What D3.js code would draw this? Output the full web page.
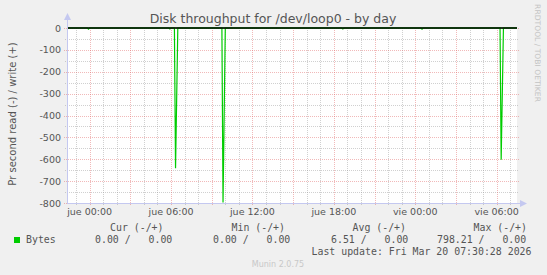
<!DOCTYPE html>
<html>
<head>
<meta charset="utf-8">
<script src="https://cdn.jsdelivr.net/npm/d3@7"></script>
<style>
  html, body { margin: 0; padding: 0; background: #f0f0f0; }
  text { white-space: pre; }
</style>
</head>
<body>
<div id="chart"></div>
<script>
// data (read plotted negative, write positive)
var sampleTimes = [
  "2026-03-18T22:20", "2026-03-18T23:50", "2026-03-18T23:55", "2026-03-19T00:00",
  "2026-03-19T05:50", "2026-03-19T05:55", "2026-03-19T06:00",
  "2026-03-19T06:15", "2026-03-19T06:20", "2026-03-19T06:30",
  "2026-03-19T09:45", "2026-03-19T09:50", "2026-03-19T10:00",
  "2026-03-19T18:35", "2026-03-19T18:40", "2026-03-19T18:45",
  "2026-03-20T00:25", "2026-03-20T00:30", "2026-03-20T00:35",
  "2026-03-20T06:15", "2026-03-20T06:20", "2026-03-20T06:30",
  "2026-03-20T07:30"
];
var readValues = [
  0, 0, 5, 0,
  0, 4, 0,
  0, 641, 0,
  0, 798.21, 0,
  0, 4, 0,
  0, 5, 0,
  0, 602, 0,
  0
];
var writeValues = [
  0, 0, 0, 0,
  0, 0, 0,
  0, 0, 0,
  0, 0, 0,
  0, 0, 0,
  0, 0, 0,
  0, 0, 0,
  0
];
var timeRange = ["2026-03-18T22:20", "2026-03-20T07:30"];
var yTicks = [0, -100, -200, -300, -400, -500, -600, -700, -800];
var yMinorTicks = [-50, -150, -250, -350, -450, -550, -650, -750];
var legendHeaders = ["Cur (-/+)", "Min (-/+)", "Avg (-/+)", "Max (-/+)"];
var legendValues = ["0.00 /   0.00", "0.00 /   0.00", "6.51 /   0.00", "798.21 /   0.00"];
var seriesName = "Bytes";
var title = "Disk throughput for /dev/loop0 - by day";
var yTitle = "Pr second read (-) / write (+)";
var lastUpdate = "Last update: Fri Mar 20 07:30:28 2026";

(function(){

    var width = 547;
    var height = 275;
    var plot = {left: 67, right: 517, top: 28, bottom: 203};

    var svg = d3.select("#chart").append("svg")
        .attr("width", width)
        .attr("height", height)
        .style("display", "block");

    svg.append("rect")
        .attr("width", width)
        .attr("height", height)
        .attr("fill", "#f0f0f0");

    var parse = d3.timeParse("%Y-%m-%dT%H:%M");
    var es = d3.timeFormatLocale({
        dateTime: "%x, %X", date: "%d/%m/%Y", time: "%H:%M:%S", periods: ["AM", "PM"],
        days: ["domingo", "lunes", "martes", "miércoles", "jueves", "viernes", "sábado"],
        shortDays: ["dom", "lun", "mar", "mié", "jue", "vie", "sáb"],
        months: ["enero", "febrero", "marzo", "abril", "mayo", "junio", "julio", "agosto", "septiembre", "octubre", "noviembre", "diciembre"],
        shortMonths: ["ene", "feb", "mar", "abr", "may", "jun", "jul", "ago", "sep", "oct", "nov", "dic"]
    });
    var fmt = es.format("%a %H:%M");

    var x = d3.scaleTime()
        .domain(timeRange.map(parse))
        .range([plot.left, plot.right]);
    var y = d3.scaleLinear()
        .domain([-800, 0])
        .range([plot.bottom, plot.top]);

    //plot background
    svg.append("rect")
        .attr("x", plot.left)
        .attr("y", plot.top)
        .attr("width", plot.right - plot.left)
        .attr("height", plot.bottom - plot.top)
        .attr("fill", "#ffffff");

    var minorColor = "rgba(150,150,150,0.45)";
    var majorColor = "rgba(225,100,100,0.45)";

    //grid
    var grid = svg.append("g");
    var hourTicks = x.ticks(d3.timeHour.every(1));
    var majorTicks = x.ticks(d3.timeHour.every(3));
    var majorKeys = majorTicks.map(function(d){ return +d; });

    grid.selectAll(".vminor")
        .data(hourTicks.filter(function(d){ return majorKeys.indexOf(+d) < 0; }))
        .enter().append("line")
        .attr("x1", function(d){ return Math.round(x(d)) + 0.5; })
        .attr("x2", function(d){ return Math.round(x(d)) + 0.5; })
        .attr("y1", plot.top)
        .attr("y2", plot.bottom + 2)
        .attr("stroke", minorColor)
        .attr("stroke-dasharray", "1,1");

    grid.selectAll(".hminor")
        .data(yMinorTicks)
        .enter().append("line")
        .attr("x1", plot.left - 2)
        .attr("x2", plot.right + 2)
        .attr("y1", function(d){ return Math.round(y(d)) + 0.5; })
        .attr("y2", function(d){ return Math.round(y(d)) + 0.5; })
        .attr("stroke", minorColor)
        .attr("stroke-dasharray", "1,1");

    grid.selectAll(".vmajor")
        .data(majorTicks)
        .enter().append("line")
        .attr("x1", function(d){ return Math.round(x(d)) + 0.5; })
        .attr("x2", function(d){ return Math.round(x(d)) + 0.5; })
        .attr("y1", plot.top)
        .attr("y2", plot.bottom + 3)
        .attr("stroke", majorColor)
        .attr("stroke-dasharray", "1,1");

    grid.selectAll(".hmajor")
        .data(yTicks)
        .enter().append("line")
        .attr("x1", plot.left - 3)
        .attr("x2", plot.right + 3)
        .attr("y1", function(d){ return Math.round(y(d)) + 0.5; })
        .attr("y2", function(d){ return Math.round(y(d)) + 0.5; })
        .attr("stroke", majorColor)
        .attr("stroke-dasharray", "1,1");

    //series
    svg.append("clipPath").attr("id", "clip")
        .append("rect")
        .attr("x", plot.left)
        .attr("y", plot.top - 1)
        .attr("width", plot.right - plot.left)
        .attr("height", plot.bottom - plot.top + 1);

    var samples = sampleTimes.map(function(t, i){
        return {t: parse(t), read: readValues[i], write: writeValues[i]};
    });

    var readLine = d3.line()
        .x(function(d){ return x(d.t); })
        .y(function(d){ return y(-d.read); });
    var writeLine = d3.line()
        .x(function(d){ return x(d.t); })
        .y(function(d){ return y(d.write); });

    var series = svg.append("g").attr("clip-path", "url(#clip)");
    series.append("path")
        .datum(samples)
        .attr("d", readLine)
        .attr("fill", "none")
        .attr("stroke", "#00cc00")
        .attr("stroke-width", 1.2);
    series.append("path")
        .datum(samples)
        .attr("d", writeLine)
        .attr("fill", "none")
        .attr("stroke", "#00cc00")
        .attr("stroke-width", 1);

    //zero line
    svg.append("line")
        .attr("x1", plot.left)
        .attr("x2", plot.right)
        .attr("y1", y(0))
        .attr("y2", y(0))
        .attr("stroke", "#000")
        .attr("stroke-width", 1.3);

    //axes
    var axisColor = "#c4c8f0";
    svg.append("line")
        .attr("x1", plot.left + 0.5).attr("x2", plot.left + 0.5)
        .attr("y1", plot.bottom).attr("y2", plot.top - 9)
        .attr("stroke", axisColor);
    svg.append("line")
        .attr("x1", plot.left).attr("x2", plot.right + 4)
        .attr("y1", plot.bottom + 0.5).attr("y2", plot.bottom + 0.5)
        .attr("stroke", axisColor);
    svg.append("path")
        .attr("d", "M" + (plot.left - 3) + "," + (plot.top - 8) + "L" + (plot.left + 0.5) + "," + (plot.top - 15) + "L" + (plot.left + 4) + "," + (plot.top - 8) + "Z")
        .attr("fill", axisColor);
    svg.append("path")
        .attr("d", "M" + (plot.right + 3) + "," + (plot.bottom - 3) + "L" + (plot.right + 10) + "," + (plot.bottom + 0.5) + "L" + (plot.right + 3) + "," + (plot.bottom + 4) + "Z")
        .attr("fill", axisColor);

    //tick labels
    svg.append("g").selectAll("text")
        .data(yTicks)
        .enter().append("text")
        .attr("x", plot.left - 6)
        .attr("y", function(d){ return y(d) + 3.5; })
        .attr("text-anchor", "end")
        .attr("font-family", "DejaVu Sans, sans-serif")
        .attr("font-size", "9.5px")
        .attr("fill", "#555")
        .text(function(d){ return d; });

    svg.append("g").selectAll("text")
        .data(x.ticks(d3.timeHour.every(6)))
        .enter().append("text")
        .attr("x", function(d){ return x(d); })
        .attr("y", 215)
        .attr("text-anchor", "middle")
        .attr("font-family", "DejaVu Sans, sans-serif")
        .attr("font-size", "9.5px")
        .attr("fill", "#555")
        .text(function(d){ return fmt(d); });

    //titles
    svg.append("text")
        .attr("x", 273)
        .attr("y", 23)
        .attr("text-anchor", "middle")
        .attr("font-family", "DejaVu Sans, sans-serif")
        .attr("font-size", "12.5px")
        .attr("fill", "#555")
        .text(title);

    svg.append("text")
        .attr("transform", "translate(16,114) rotate(-90)")
        .attr("text-anchor", "middle")
        .attr("font-family", "DejaVu Sans, sans-serif")
        .attr("font-size", "10px")
        .attr("fill", "#555")
        .text(yTitle);

    svg.append("text")
        .attr("transform", "translate(535,53) rotate(90)")
        .attr("text-anchor", "middle")
        .attr("font-family", "DejaVu Sans, sans-serif")
        .attr("font-size", "7.6px")
        .attr("fill", "#c4c4c4")
        .text("RRDTOOL / TOBI OETIKER");

    //legend
    var mono = "DejaVu Sans Mono, monospace";
    var headerX = [110, 231.5, 352.5, 473.5];
    var valueX = [95, 213, 331, 437];

    svg.append("g").selectAll("text")
        .data(legendHeaders)
        .enter().append("text")
        .attr("x", function(d, i){ return headerX[i]; })
        .attr("y", 231)
        .attr("font-family", mono)
        .attr("font-size", "9.9px")
        .attr("fill", "#555")
        .text(function(d){ return d; });

    svg.append("rect")
        .attr("x", 14)
        .attr("y", 237)
        .attr("width", 6)
        .attr("height", 6)
        .attr("fill", "#00cc00");

    svg.append("text")
        .attr("x", 26)
        .attr("y", 243)
        .attr("font-family", mono)
        .attr("font-size", "9.9px")
        .attr("fill", "#555")
        .text(seriesName);

    svg.append("g").selectAll("text")
        .data(legendValues)
        .enter().append("text")
        .attr("x", function(d, i){ return valueX[i]; })
        .attr("y", 243)
        .attr("font-family", mono)
        .attr("font-size", "9.9px")
        .attr("fill", "#555")
        .text(function(d){ return d; });

    svg.append("text")
        .attr("x", 311.5)
        .attr("y", 255)
        .attr("font-family", mono)
        .attr("font-size", "9.9px")
        .attr("fill", "#555")
        .text(lastUpdate);

    svg.append("text")
        .attr("x", 278)
        .attr("y", 267)
        .attr("text-anchor", "middle")
        .attr("font-family", "DejaVu Sans, sans-serif")
        .attr("font-size", "8px")
        .attr("fill", "#c8c8c8")
        .text("Munin 2.0.75");

})();
</script>
</body>
</html>
